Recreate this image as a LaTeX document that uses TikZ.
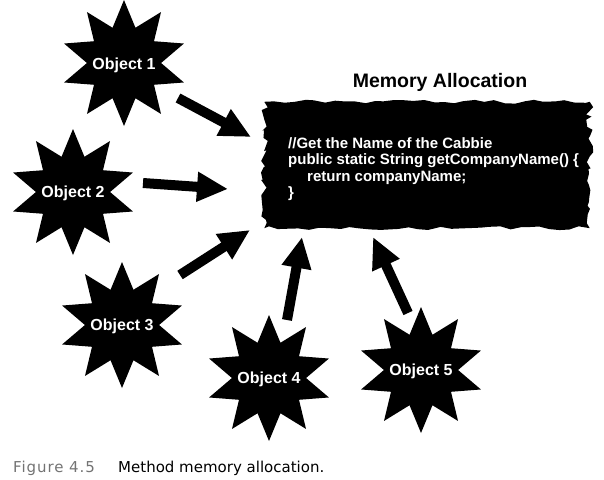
\documentclass[tikz,border=0pt]{standalone}
\usepackage{fontspec}
\setmainfont{Liberation Sans}
\newfontfamily\capfont{DejaVu Sans}
\newfontfamily\capnumfont[LetterSpace=6]{DejaVu Sans}
\usetikzlibrary{shapes.geometric,arrows.meta,decorations.pathmorphing}
\begin{document}
\begin{tikzpicture}[x=1pt,y=-1pt,
  objstar/.style={star, star points=10, star point ratio=1.7, fill=black,
    minimum size=126pt, inner sep=0pt, draw=none},
  objlabel/.style={text=white, font=\fontsize{16}{18}\selectfont\bfseries, inner sep=0pt},
  codeline/.style={text=white, font=\fontsize{15}{16.5}\selectfont\bfseries, inner sep=0pt, anchor=base west},
  bigarrow/.style={line width=10pt, -{Triangle[width=28pt,length=31pt]}},
  captext/.style={anchor=base west, inner sep=0pt, font=\capfont\fontsize{15}{17}\selectfont},
]
\useasboundingbox (0,0) rectangle (604,479);
\pgfmathsetseed{7}
% memory box
\node[minimum width=325pt, minimum height=126pt, inner sep=0pt] (mem) at (427,165) {};
\fill[black] (mem.north west)
  decorate[decoration={random steps, segment length=10pt, amplitude=2pt}]{-- (mem.north east)}
  decorate[decoration={random steps, segment length=5pt, amplitude=3.5pt}]{-- (mem.south east)}
  decorate[decoration={random steps, segment length=10pt, amplitude=2pt}]{-- (mem.south west)}
  decorate[decoration={random steps, segment length=5pt, amplitude=3.5pt}]{-- (mem.north west)} -- cycle;
\node[font=\fontsize{19.5}{22}\selectfont\bfseries, anchor=base, inner sep=0pt] (title) at (440,87) {Memory Allocation};
\node[codeline] (c1) at (288,148) {//Get the Name of the Cabbie};
\node[codeline] (c2) at (288,164) {public static String getCompanyName() \{};
\node[codeline] (c3) at (307,181) {return companyName;};
\node[codeline] (c4) at (288,197) {\}};
% objects
\node[objstar] (o1) at (124,63) {};
\node[objstar] (o2) at (73,192) {};
\node[objstar] (o3) at (122,325) {};
\node[objstar] (o4) at (269,378) {};
\node[objstar] (o5) at (421,370) {};
\node[objlabel] (l1) at (124,65) {Object 1};
\node[objlabel] (l2) at (73,193) {Object 2};
\node[objlabel] (l3) at (122,326) {Object 3};
\node[objlabel] (l4) at (269,379) {Object 4};
\node[objlabel] (l5) at (421,371) {Object 5};
% arrow ends
\coordinate (s1) at (178,98);  \coordinate (t1) at (251,137);
\coordinate (s2) at (143,183); \coordinate (t2) at (228,189);
\coordinate (s3) at (180,275); \coordinate (t3) at (250,230);
\coordinate (s4) at (287,320); \coordinate (t4) at (302,237);
\coordinate (s5) at (408,313); \coordinate (t5) at (373,237);
\draw[bigarrow] (s1) -- (t1);
\draw[bigarrow] (s2) -- (t2);
\draw[bigarrow] (s3) -- (t3);
\draw[bigarrow] (s4) -- (t4);
\draw[bigarrow] (s5) -- (t5);
% caption
\node[captext, font=\capnumfont\fontsize{15}{17}\selectfont, text=black!55] (capnum) at (13,472) {Figure 4.5};
\node[captext] (cap) at (118,472) {Method memory allocation.};
\end{tikzpicture}
\end{document}
